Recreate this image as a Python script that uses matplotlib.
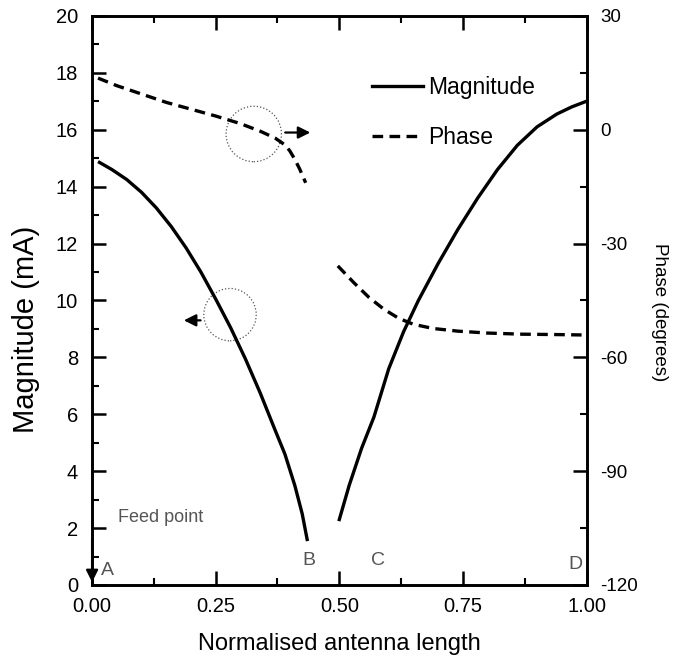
import numpy as np
import matplotlib
matplotlib.use("Agg")
import matplotlib.pyplot as plt
from matplotlib.patches import Ellipse
from matplotlib.ticker import MultipleLocator, FormatStrFormatter

plt.rcParams['font.family'] = ['Liberation Sans', 'DejaVu Sans']
plt.rcParams['axes.unicode_minus'] = False

# magnitude, feed side (A -> B) and far side (C -> D)
mag_x1 = [0.015, 0.04, 0.07, 0.10, 0.13, 0.16, 0.19, 0.22, 0.25, 0.28, 0.31, 0.34,
          0.37, 0.39, 0.41, 0.425, 0.435]
mag_y1 = [14.85, 14.6, 14.25, 13.8, 13.25, 12.6, 11.85, 11.0, 10.05, 9.05, 7.95, 6.75,
          5.45, 4.6, 3.5, 2.5, 1.6]
mag_x2 = [0.50, 0.52, 0.545, 0.57, 0.60, 0.63, 0.66, 0.70, 0.74, 0.78, 0.82, 0.86,
          0.90, 0.94, 0.97, 1.00]
mag_y2 = [2.3, 3.5, 4.8, 5.9, 7.6, 8.9, 10.0, 11.3, 12.5, 13.6, 14.6, 15.45,
          16.1, 16.55, 16.8, 17.0]

# phase, same two segments
ph_x1 = [0.012, 0.05, 0.10, 0.15, 0.20, 0.25, 0.30, 0.34, 0.37, 0.39, 0.40, 0.41,
         0.42, 0.432]
ph_y1 = [13.6, 11.6, 9.4, 7.2, 5.4, 3.6, 1.6, -0.4, -2.2, -4.0, -5.6, -7.8,
         -10.4, -14.0]
ph_x2 = [0.497, 0.53, 0.56, 0.59, 0.62, 0.65, 0.69, 0.74, 0.80, 0.87, 0.94, 0.99]
ph_y2 = [-35.9, -40.4, -44.2, -47.3, -49.7, -51.3, -52.4, -53.1, -53.6, -53.9, -54.0, -54.1]

fig = plt.figure(figsize=(6.82, 6.61), dpi=100)
ax = fig.add_axes([0.135, 0.115, 0.725, 0.861])
ax2 = ax.twinx()

l1, = ax.plot(mag_x1, mag_y1, color='black', lw=2.4, label='Magnitude')
ax.plot(mag_x2, mag_y2, color='black', lw=2.4)
l2, = ax2.plot(ph_x1, ph_y1, color='black', lw=2.4, ls=(0, (3.2, 1.9)), label='Phase')
ax2.plot(ph_x2, ph_y2, color='black', lw=2.4, ls=(0, (3.2, 1.9)))

ax.set_xlim(0, 1)
ax.set_ylim(0, 20)
ax2.set_ylim(-120, 30)
ax.xaxis.set_major_locator(MultipleLocator(0.25))
ax.xaxis.set_minor_locator(MultipleLocator(0.125))
ax.yaxis.set_major_locator(MultipleLocator(2))
ax.yaxis.set_minor_locator(MultipleLocator(1))
ax2.yaxis.set_major_locator(MultipleLocator(30))
ax2.yaxis.set_minor_locator(MultipleLocator(15))
ax.xaxis.set_major_formatter(FormatStrFormatter('%.2f'))

for a in (ax, ax2):
    a.tick_params(which='major', direction='in', length=10, width=1.8)
    a.tick_params(which='minor', direction='in', length=5, width=1.5)
    for s in a.spines.values():
        s.set_linewidth(1.9)
ax.tick_params(which='both', top=True)
ax.tick_params(axis='x', labelsize=14.5, pad=9)
ax.tick_params(axis='y', labelsize=14.5, pad=10)
ax2.tick_params(axis='y', labelsize=13.5, pad=10)

ax.set_xlabel('Normalised antenna length', fontsize=17, labelpad=12)
ax.set_ylabel('Magnitude (mA)', fontsize=21)
ax.yaxis.set_label_coords(-0.105, 0.45)
ax2.set_ylabel('Phase (degrees)', fontsize=13.5, rotation=-90, va='bottom')
ax2.yaxis.set_label_coords(1.13, 0.48)

# circles with arrows pointing to each axis
ax.add_patch(Ellipse((0.279, 9.5), 0.106, 1.84, fill=False, ls=':', lw=0.9, color='#555555'))
ax.annotate('', xy=(0.18, 9.3), xytext=(0.225, 9.3),
            arrowprops=dict(arrowstyle='-|>', color='black', lw=1.6, mutation_scale=18))
ax.add_patch(Ellipse((0.327, 15.85), 0.112, 1.95, fill=False, ls=':', lw=0.9, color='#555555'))
ax.annotate('', xy=(0.447, 15.9), xytext=(0.385, 15.9),
            arrowprops=dict(arrowstyle='-|>', color='black', lw=1.6, mutation_scale=18))

# point labels
gray = '#555555'
ax.text(0.018, 0.35, 'A', fontsize=14, color=gray)
ax.text(0.426, 0.7, 'B', fontsize=14, color=gray)
ax.text(0.565, 0.7, 'C', fontsize=14, color=gray)
ax.text(0.964, 0.55, 'D', fontsize=14, color=gray)
ax.text(0.053, 2.2, 'Feed point', fontsize=13, color=gray)
ax.annotate('', xy=(0.0, 0.0), xytext=(0.0, 1.7),
            arrowprops=dict(arrowstyle='-|>', color='black', lw=1.6, mutation_scale=18))

ax.legend([l1, l2], ['Magnitude', 'Phase'], loc='upper left', bbox_to_anchor=(0.525, 0.93),
          frameon=False, fontsize=16.5, handlelength=2.2, labelspacing=1.15, handletextpad=0.25)

fig.savefig('out.png', dpi=100)
